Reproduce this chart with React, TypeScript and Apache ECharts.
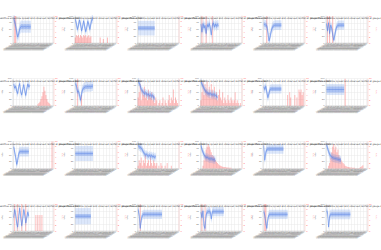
import React, { useEffect, useRef } from "react";
import * as echarts from "echarts";

const categories = [
  "2021-01-04","2021-01-11","2021-01-18","2021-01-25","2021-02-01","2021-02-08","2021-02-15","2021-02-22",
  "2021-03-01","2021-03-08","2021-03-15","2021-03-22","2021-03-29","2021-04-05","2021-04-12","2021-04-19",
  "2021-04-26","2021-05-03","2021-05-10","2021-05-17","2021-05-24","2021-05-31","2021-06-07","2021-06-14",
  "2021-06-21","2021-06-28","2021-07-05","2021-07-12","2021-07-19","2021-07-26","2021-08-02","2021-08-09",
  "2021-08-16","2021-08-23","2021-08-30","2021-09-06","2021-09-13","2021-09-20","2021-09-27","2021-10-04",
];

const titles = [
  "Streamflow ensemble spread and observed rainfall at gauge station A01",
  "Streamflow ensemble spread and observed rainfall at gauge station A02",
  "Streamflow ensemble spread and observed rainfall at gauge station A03",
  "Streamflow ensemble spread and observed rainfall at gauge station A04",
  "Streamflow ensemble spread and observed rainfall at gauge station A05",
  "Streamflow ensemble spread and observed rainfall at gauge station A06",
  "Streamflow ensemble spread and observed rainfall at gauge station B01",
  "Streamflow ensemble spread and observed rainfall at gauge station B02",
  "Streamflow ensemble spread and observed rainfall at gauge station B03",
  "Streamflow ensemble spread and observed rainfall at gauge station B04",
  "Streamflow ensemble spread and observed rainfall at gauge station B05",
  "Streamflow ensemble spread and observed rainfall at gauge station B06",
  "Streamflow ensemble spread and observed rainfall at gauge station C01",
  "Streamflow ensemble spread and observed rainfall at gauge station C02",
  "Streamflow ensemble spread and observed rainfall at gauge station C03",
  "Streamflow ensemble spread and observed rainfall at gauge station C04",
  "Streamflow ensemble spread and observed rainfall at gauge station C05",
  "Streamflow ensemble spread and observed rainfall at gauge station C06",
  "Streamflow ensemble spread and observed rainfall at gauge station D01",
  "Streamflow ensemble spread and observed rainfall at gauge station D02",
  "Streamflow ensemble spread and observed rainfall at gauge station D03",
  "Streamflow ensemble spread and observed rainfall at gauge station D04",
  "Streamflow ensemble spread and observed rainfall at gauge station D05",
  "Streamflow ensemble spread and observed rainfall at gauge station D06",
];

// median line of each panel (left axis)
const mid0 = [88, 80, 62, 40, 22, 35, 52, 60, 61, 60, 60, 61, 60, 60, 61, 60, 60, 60];
const mid1 = [88, 72, 50, 65, 85, 70, 45, 60, 82, 62, 42, 58, 80, 70, 50, 72, 88, 90];
const mid2 = [55, 55, 55, 55, 55, 55, 55, 55, 55, 55, 55, 55, 55, 55, 55, 55, 55];
const mid3 = [70, 40, 72, 55, 65, 35, 68, 60, 72, 58, 30, 66, 74, 60, 70, 62, 68, 65];
const mid4 = [70, 68, 66, 64, 40, 8, 20, 40, 55, 62, 65, 66, 66, 66, 66, 66, 66, 66];
const mid5 = [72, 45, 75, 35, 66, 55, 30, 10, 30, 50, 62, 65, 66, 66, 66, 66, 66, 66];
const mid6 = [80, 65, 72, 55, 45, 70, 82, 50, 40, 60, 78, 55, 38, 62, 80, 70, 75];
const mid7 = [82, 75, 50, 55, 40, 20, 45, 60, 66, 68, 70, 70, 71, 70, 71, 70, 72, 72];
const mid8 = [90, 85, 75, 60, 55, 50, 45, 48, 44, 40, 42, 38, 40, 35, 38, 30, 28];
const mid9 = [88, 80, 72, 65, 55, 52, 48, 45, 44, 45, 42, 40, 42, 40, 38, 36, 30];
const mid10 = [70, 60, 72, 50, 30, 45, 60, 62, 62, 62, 62, 62, 62, 62, 62, 62, 62, 62];
const mid11 = [60, 60, 60, 60, 60, 60, 60, 60, 60, 60, 60, 60, 60, 60, 60, 60, 60, 60];
const mid12 = [80, 60, 40, 15, 30, 55, 62, 62, 62, 62, 62, 62, 62, 62, 62, 62];
const mid13 = [55, 55, 55, 55, 55, 55, 55, 55, 55, 55, 55, 55, 55, 55, 55, 55, 55, 55];
const mid14 = [85, 80, 78, 75, 70, 60, 55, 50, 52, 48, 45, 50, 44, 48, 42, 46, 40, 45];
const mid15 = [85, 70, 60, 50, 45, 40, 42, 38, 36, 35, 36, 34, 33, 32, 30];
const mid16 = [85, 30, 60, 70, 72, 72, 72, 72, 72, 72, 72, 72, 72, 72, 72, 72, 72, 72, 72, 72];
const mid17 = [88, 75, 62, 52, 46, 42, 40, 38, 37, 36, 35, 34, 33, 32, 31];
const mid18 = [50, 80, 60, 30, 15, 55, 85, 50, 20, 45, 80, 60, 30, 50, 70, 55];
const mid19 = [55, 55, 55, 55, 55, 55, 55, 55, 55, 55, 55, 55, 55, 55, 55, 55];
const mid20 = [80, 60, 10, 40, 58, 62, 62, 62, 62, 62, 62, 62, 62, 62, 62, 62, 62, 62, 62, 62, 62, 62, 62, 62];
const mid21 = [70, 50, 75, 20, 10, 60, 70, 72, 72, 72, 45, 72, 72, 72, 72, 72, 72, 72, 72, 72, 72, 72, 72];
const mid22 = [72, 60, 30, 10, 45, 60, 62, 62, 62, 62, 62, 62, 62, 62, 62, 62, 62, 62, 62, 62, 62, 62, 62, 62];
const mid23 = [75, 70, 15, 55, 62, 62, 62, 62, 62, 62, 62, 62, 62, 62, 62, 62, 62, 62, 62, 62, 62, 62, 62, 62];

// half-widths of the inner and outer bands of each panel
const innerW = [9, 7, 8, 8, 8, 8, 6, 8, 7, 7, 8, 11, 8, 8, 7, 7, 8, 7, 7, 8, 8, 8, 8, 8];
const outerW = [22, 16, 27, 18, 18, 17, 15, 18, 15, 15, 17, 20, 18, 28, 15, 15, 18, 15, 16, 30, 17, 17, 17, 18];

// rainfall bars of each panel (right axis)
const bars0 = [0, 10, 10, 0, 0, 0, 0, 0, 0, 0, 0, 0, 0, 0, 0, 0, 0, 0, 0, 0, 0, 0, 0, 0, 0, 0, 0, 0, 0, 0, 0, 0, 0, 0, 0, 0, 0, 0, 0, 0];
const bars1 = [2, 3, 2.5, 3, 2, 3, 2.5, 2, 3, 2.5, 3, 2, 2.5, 3, 2, 2.5, 0, 0, 0, 0, 0, 0, 0, 0, 2, 0, 0, 1.5, 0, 0, 0, 2, 0, 0, 0, 0, 0, 0, 0, 0];
const bars2 = [0, 0, 0, 0, 0, 0, 0, 0, 0, 0, 0, 0, 0, 0, 0, 0, 0, 0, 0, 0, 0, 0, 0, 0, 0, 0, 0, 0, 0, 0, 0, 0, 0, 0, 0, 0, 0, 0, 0, 0];
const bars3 = [0, 10, 0, 0, 0, 10, 0, 0, 0, 0, 0, 10, 0, 0, 0, 0, 0, 0, 0, 0, 0, 0, 0, 0, 0, 0, 0, 0, 0, 0, 0, 0, 0, 0, 0, 0, 0, 0, 0, 0];
const bars4 = [0, 0, 0, 10, 0, 0, 0, 0, 0, 0, 0, 0, 0, 0, 0, 0, 0, 0, 0, 0, 0, 0, 0, 0, 0, 0, 0, 0, 0, 0, 0, 0, 0, 0, 0, 0, 0, 0, 0, 0];
const bars5 = [0, 10, 0, 10, 0, 0, 10, 0, 0, 0, 0, 0, 0, 0, 0, 0, 0, 0, 0, 0, 0, 0, 0, 0, 0, 0, 0, 0, 0, 0, 0, 0, 0, 0, 0, 0, 0, 0, 0, 0];
const bars6 = [0, 0, 0, 0, 0, 0, 0, 0, 0, 0, 0, 0, 0, 0, 0, 0, 0, 0, 0, 0, 0, 0, 0, 0, 0.5, 1, 1.5, 2.5, 3.5, 5, 7, 5.5, 4, 2.5, 1.5, 1, 0.5, 0, 0, 0];
const bars7 = [0, 0, 10, 0, 0, 0, 4, 0, 0, 0, 0, 0, 0, 0, 0, 0, 0, 0, 0, 0, 0, 0, 0, 0, 0, 0, 0, 0, 0, 0, 0, 0, 0, 0, 0, 0, 0, 0, 0, 0];
const bars8 = [3, 5, 8, 2, 6, 4, 7, 3, 5, 2, 6, 4, 3, 5, 2, 4, 1, 3, 2, 0, 1, 2, 0, 1, 3, 0, 2, 1, 0, 2, 4, 1, 3, 2, 6, 1, 3, 2, 1, 0];
const bars9 = [2, 5, 9, 4, 8, 6, 9, 5, 7, 3, 8, 6, 4, 7, 3, 5, 2, 4, 6, 3, 2, 5, 1, 3, 2, 1, 4, 2, 1, 3, 2, 1, 2, 5, 1, 2, 1, 0, 1, 0];
const bars10 = [0, 0, 0, 0, 0, 0, 0, 0, 0, 0, 0, 0, 0, 0, 0, 0, 0, 0, 0, 0, 0, 0, 0, 4, 0, 5, 3, 0, 0, 0, 4, 0, 3, 0, 6, 5, 6, 4, 5, 0];
const bars11 = [0, 0, 0, 0, 0, 0, 0, 0, 0, 0, 0, 0, 0, 0, 0, 0, 0, 0, 10, 0, 0, 0, 0, 0, 0, 0, 0, 0, 0, 0, 0, 0, 0, 0, 0, 0, 0, 0, 0, 0];
const bars12 = [0, 0, 0, 0, 0, 0, 0, 0, 0, 0, 0, 0, 0, 0, 0, 0, 0, 0, 0, 0, 0, 0, 0, 0, 0, 0, 0, 0, 0, 0, 0, 0, 0, 0, 0, 0, 0, 0, 10, 0];
const bars13 = [0, 0, 0, 0, 0, 0, 0, 0, 0, 0, 0, 0, 0, 0, 0, 0, 0, 0, 0, 0, 0, 0, 0, 0, 0, 0, 0, 0, 0, 0, 0, 0, 0, 0, 0, 0, 0, 0, 0, 0];
const bars14 = [1, 3, 2, 4, 1, 3, 2, 5, 1, 2, 3, 1, 4, 2, 1, 3, 2, 1, 2, 0, 1, 0, 2, 1, 0, 0, 1, 0, 2, 0, 0, 0, 1, 0, 0, 0, 0, 0, 0, 0];
const bars15 = [0, 0, 1, 3, 5, 7, 8, 9, 8, 7, 6, 5, 4.5, 4, 3, 2.5, 2, 1.5, 1.2, 1, 0.8, 0.6, 0.5, 0.5, 0.4, 0.3, 0.3, 0.2, 0.2, 0.2, 0, 0, 0, 0, 0, 0, 0, 0, 0, 0];
const bars16 = [0, 0, 0, 0, 0, 0, 0, 0, 0, 0, 0, 0, 0, 0, 0, 0, 0, 0, 0, 0, 0, 0, 0, 0, 0, 0, 0, 0, 0, 0, 0, 0, 0, 0, 0, 0, 0, 0, 0, 0];
const bars17 = [0, 0, 1, 2, 4, 6, 8, 9, 7, 8, 6, 7, 5, 4, 3, 2.5, 2, 1.5, 1, 0.8, 0.6, 0.5, 0.4, 0.3, 0.3, 0.2, 0.2, 0.2, 0.1, 0.1, 0.1, 0.1, 0.2, 0.5, 0.8, 1.2, 0, 0, 0, 0];
const bars18 = [0, 10, 0, 0, 10, 0, 0, 0, 10, 0, 0, 0, 10, 0, 0, 0, 0, 0, 0, 0, 0, 0, 6, 0, 6, 0, 6, 0, 6, 0, 0, 0, 0, 0, 0, 0, 0, 0, 0, 0];
const bars19 = [0, 0, 0, 0, 0, 0, 0, 0, 0, 0, 0, 0, 0, 0, 0, 0, 0, 0, 0, 0, 0, 0, 0, 0, 0, 0, 0, 0, 0, 0, 0, 0, 0, 0, 0, 0, 0, 0, 0, 0];
const bars20 = [0, 0, 10, 0, 0, 0, 0, 0, 0, 0, 0, 0, 0, 0, 0, 0, 0, 0, 0, 0, 0, 0, 0, 0, 0, 0, 0, 0, 0, 0, 0, 0, 0, 0, 0, 0, 0, 0, 0, 0];
const bars21 = [0, 10, 0, 0, 10, 0, 0, 0, 0, 0, 0, 0, 0, 0, 0, 0, 0, 0, 0, 0, 0, 0, 0, 0, 0, 0, 0, 0, 0, 0, 0, 0, 0, 0, 0, 0, 0, 0, 0, 0];
const bars22 = [0, 10, 10, 0, 0, 0, 0, 0, 0, 0, 0, 0, 0, 0, 0, 0, 0, 0, 0, 0, 0, 0, 0, 0, 0, 0, 0, 0, 0, 0, 0, 0, 0, 0, 0, 0, 0, 0, 0, 0];
const bars23 = [0, 0, 0, 0, 0, 0, 0, 0, 0, 0, 0, 0, 0, 0, 0, 0, 0, 0, 0, 0, 0, 0, 0, 0, 0, 0, 0, 0, 0, 0, 0, 0, 0, 0, 0, 0, 0, 0, 0, 0];

const mids = [mid0, mid1, mid2, mid3, mid4, mid5, mid6, mid7, mid8, mid9, mid10, mid11,
  mid12, mid13, mid14, mid15, mid16, mid17, mid18, mid19, mid20, mid21, mid22, mid23];
const barsAll = [bars0, bars1, bars2, bars3, bars4, bars5, bars6, bars7, bars8, bars9, bars10, bars11,
  bars12, bars13, bars14, bars15, bars16, bars17, bars18, bars19, bars20, bars21, bars22, bars23];

const leftName = "m³/s";
const rightName = "mm";

export default function App() {
  const ref = useRef<HTMLDivElement>(null);
  useEffect(() => {
    if (!ref.current) return;
    const chart = echarts.init(ref.current, null, { renderer: "svg" });
    const grids: any[] = [];
    const xAxes: any[] = [];
    const yAxes: any[] = [];
    const series: any[] = [];
    const title: any[] = [];
    const fs = 2.4;
    for (let k = 0; k < 24; k++) {
      const r = Math.floor(k / 6);
      const c = k % 6;
      const left = 12 + c * 62.8;
      const top = 16 + r * 62.7;
      const w = 41.5;
      const h = 27;
      grids.push({ left, top, width: w, height: h, containLabel: false });
      title.push({
        text: titles[k],
        left: left + w / 2,
        top: top - 3.5,
        textAlign: "center",
        textStyle: { fontSize: 2.3, fontWeight: "normal", color: "#444", fontFamily: "DejaVu Sans" },
      });
      xAxes.push({
        type: "category",
        gridIndex: k,
        data: categories,
        boundaryGap: true,
        axisLine: { lineStyle: { color: "#bbb", width: 0.4 } },
        axisTick: { show: false },
        axisLabel: { fontSize: fs, color: "#888", rotate: 30, interval: 0, margin: 1 },
        splitLine: { show: true, interval: 2, lineStyle: { color: "#e8e8e8", width: 0.5 } },
      });
      yAxes.push({
        type: "value",
        gridIndex: k,
        min: 0,
        max: 100,
        interval: 25,
        name: leftName,
        nameLocation: "middle",
        nameGap: 7,
        nameTextStyle: { fontSize: fs, color: "#666" },
        axisLine: { show: true, lineStyle: { color: "#bbb", width: 0.4 } },
        axisTick: { show: false },
        axisLabel: { fontSize: fs, color: "#777", margin: 1.5 },
        splitLine: { show: true, lineStyle: { color: "#e8e8e8", width: 0.5 } },
      });
      yAxes.push({
        type: "value",
        gridIndex: k,
        position: "right",
        min: 0,
        max: 10,
        interval: 2,
        name: rightName,
        nameLocation: "middle",
        nameGap: 7,
        nameTextStyle: { fontSize: fs, color: "#ff6666" },
        axisLine: { show: true, lineStyle: { color: "#ffb0b0", width: 0.4 } },
        axisTick: { show: false },
        axisLabel: { fontSize: fs, color: "#ff6666", margin: 1.5 },
        splitLine: { show: false },
      });
      const m = mids[k];
      const iw = innerW[k];
      const ow = outerW[k];
      const base = { type: "line", xAxisIndex: k, yAxisIndex: 2 * k, symbol: "none", silent: true };
      series.push({ ...base, stack: "o" + k, data: m.map((v) => v - ow), lineStyle: { opacity: 0 } });
      series.push({ ...base, stack: "o" + k, data: m.map(() => 2 * ow), lineStyle: { opacity: 0 },
        areaStyle: { color: "rgba(100,149,237,0.32)" } });
      series.push({ ...base, stack: "i" + k, data: m.map((v) => v - iw), lineStyle: { opacity: 0 } });
      series.push({ ...base, stack: "i" + k, data: m.map(() => 2 * iw), lineStyle: { opacity: 0 },
        areaStyle: { color: "rgba(80,125,230,0.5)" } });
      series.push({ ...base, data: m, lineStyle: { color: "#5a85e6", width: 0.5 } });
      series.push({
        type: "bar",
        xAxisIndex: k,
        yAxisIndex: 2 * k + 1,
        data: barsAll[k],
        barWidth: "55%",
        itemStyle: { color: "rgba(255,40,40,0.3)" },
        silent: true,
      });
    }
    chart.setOption({
      animation: false,
      backgroundColor: "#fff",
      title,
      grid: grids,
      xAxis: xAxes,
      yAxis: yAxes,
      series,
    });
    return () => chart.dispose();
  }, []);
  return <div ref={ref} style={{ width: 381, height: 250, position: "absolute", left: 0, top: 0 }} />;
}
